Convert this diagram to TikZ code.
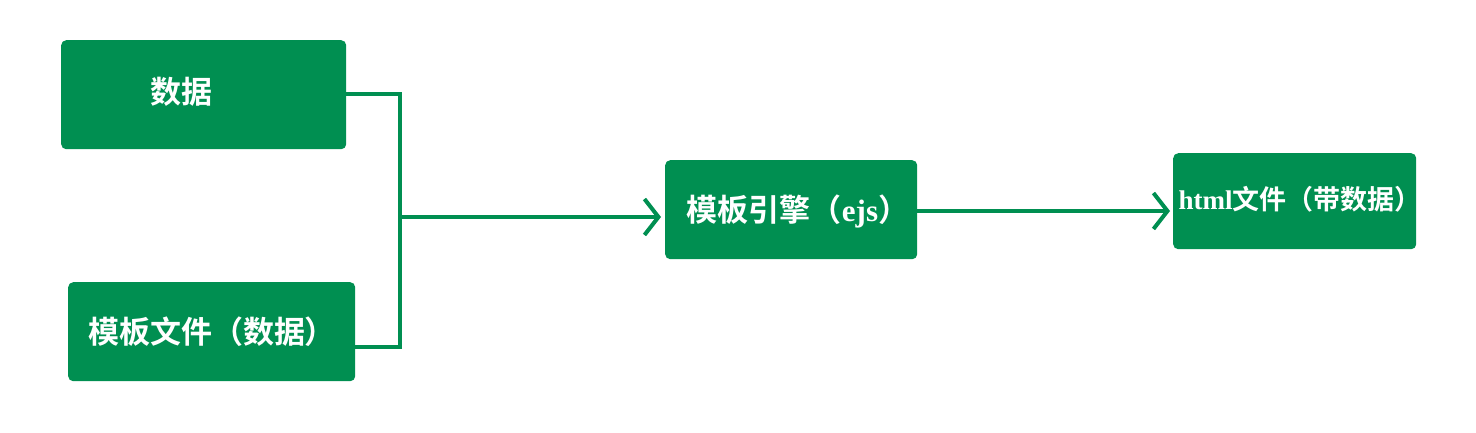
\documentclass[tikz,border=0pt]{standalone}
\usepackage{fontspec}
\newfontfamily\cjk{Noto Sans CJK SC}[BoldFont={Noto Sans CJK SC Bold}]
\newfontfamily\latserif{Liberation Serif}
\usetikzlibrary{arrows.meta}
\definecolor{boxgreen}{HTML}{008F51}
\tikzset{
  box/.style={fill=boxgreen, draw=none, rounded corners=5pt, inner sep=0pt, anchor=north west},
  lbl/.style={text=white, font=\cjk\bfseries\fontsize{31}{34}\selectfont, inner sep=0pt},
  conn/.style={draw=boxgreen, line width=4pt},
  arr/.style={conn, -{Straight Barb[length=14pt, width=36pt, line width=4pt]}}
}
\begin{document}
\begin{tikzpicture}[x=1pt,y=-1pt]
\useasboundingbox (0,0) rectangle (1476,432);
\node[box, minimum width=285pt, minimum height=109pt] (a) at (61,40) {};
\node[box, minimum width=287pt, minimum height=99pt] (b) at (68,282) {};
\node[box, minimum width=252pt, minimum height=99pt] (c) at (665,160) {};
\node[box, minimum width=243pt, minimum height=96pt] (d) at (1173,153) {};
\node[lbl] (ta) at (181,92) {数据};
\node[lbl] (tb) at (212,332) {模板文件（数据）};
\node[lbl] (tc) at (798,211) {模板引擎（{\latserif ejs}）};
\node[lbl, font=\cjk\bfseries\fontsize{27}{30}\selectfont] (td) at (1300,199) {{\latserif html}文件（带数据）};
\coordinate (j1) at (400,94);
\coordinate (j2) at (400,347);
\coordinate (jm) at (400,217);
\coordinate (ct) at (661,217);
\coordinate (cs) at (917,211);
\coordinate (dt) at (1170,211);
\draw[conn] (a.east |- j1) -- (j1) -- (j2) -- (b.east |- j2);
\draw[arr] (jm) -- (ct);
\draw[arr] (cs) -- (dt);
\end{tikzpicture}
\end{document}
